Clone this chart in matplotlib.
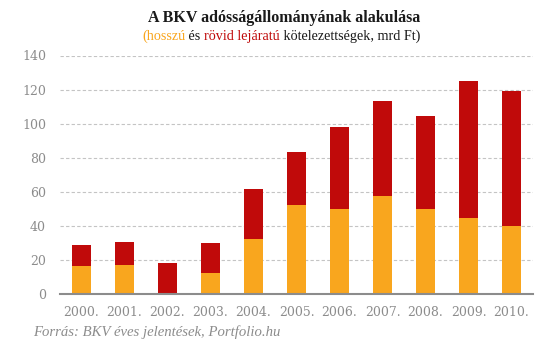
import numpy as np
import matplotlib
matplotlib.use("Agg")
import matplotlib.pyplot as plt

###############################################################################
# Data (mrd Ft)
###############################################################################
years = ['2000.', '2001.', '2002.', '2003.', '2004.', '2005.',
         '2006.', '2007.', '2008.', '2009.', '2010.']
long_term = [16.5, 17.0, 0.0, 12.3, 32.4, 52.4, 50.0, 57.6, 50.0, 44.7, 40.0]
total = [28.7, 30.5, 18.2, 29.9, 61.8, 83.5, 98.2, 113.5, 104.7, 125.3, 119.4]
short_term = [t - l for t, l in zip(total, long_term)]
yticks = [0, 20, 40, 60, 80, 100, 120, 140]

orange = '#F9A61E'
red = '#C00A0A'
grey = '#8C8C8C'
dark = '#1A1A1A'
serif = 'DejaVu Serif'
text_serif = 'Liberation Serif'

###############################################################################
# Figure
###############################################################################
fig = plt.figure(figsize=(5.52, 3.54), dpi=100)
ax = fig.add_axes([60/552, 1 - 294/354, (533-60)/552, (294-55.5)/354])

x = np.arange(len(years))
ax.bar(x, long_term, width=0.42, color=orange, zorder=3)
ax.bar(x, short_term, width=0.42, bottom=long_term, color=red, zorder=3)

ax.set_xlim(-0.5, 10.5)
ax.set_ylim(0, 140)
ax.set_yticks(yticks)
ax.set_xticks(x)
ax.set_xticklabels(years)
ax.yaxis.grid(True, linestyle=(0, (3, 2)), color='#C4C4C4', linewidth=0.8, zorder=0)
for s in ['top', 'right', 'left']:
    ax.spines[s].set_visible(False)
ax.spines['bottom'].set_color(grey)
ax.spines['bottom'].set_linewidth(1.5)
ax.spines['bottom'].set_zorder(4)
ax.tick_params(axis='both', length=0, colors=grey, labelsize=9)
ax.tick_params(axis='y', pad=10)
ax.tick_params(axis='x', pad=9)
for lab in ax.get_xticklabels() + ax.get_yticklabels():
    lab.set_family(serif)

# Title
fig.text(284/552, 1 - 18/354, 'A BKV adósságállományának alakulása', ha='center', va='center',
         fontsize=11.5, fontweight='bold', family=text_serif, color=dark)

# Subtitle with coloured parts
parts = [('(hosszú', orange), (' és ', dark), ('rövid lejáratú', red),
         (' kötelezettségek, mrd Ft)', dark)]
first = fig.text(140/552, 1 - 36/354, parts[0][0], ha='left', va='center', fontsize=10.2,
                 family=text_serif, color=parts[0][1])
t = first
pieces = [first]
for txt, col in parts[1:]:
    t = ax.annotate(txt, xy=(1, 0), xycoords=t, ha='left', va='bottom', fontsize=10.2,
                    family=text_serif, color=col, annotation_clip=False)
    pieces.append(t)

# centre the subtitle around x = 281 px
fig.canvas.draw()
r = fig.canvas.get_renderer()
x0 = pieces[0].get_window_extent(r).x0
x1 = pieces[-1].get_window_extent(r).x1
first.set_x((140 + (281 - (x0 + x1) / 2)) / 552)

# Source
fig.text(33/552, 1 - 332/354, 'Forrás: BKV éves jelentések, Portfolio.hu', ha='left', va='center',
         fontsize=10.6, style='italic', family=text_serif, color=grey)

plt.savefig('out.png', dpi=100)
